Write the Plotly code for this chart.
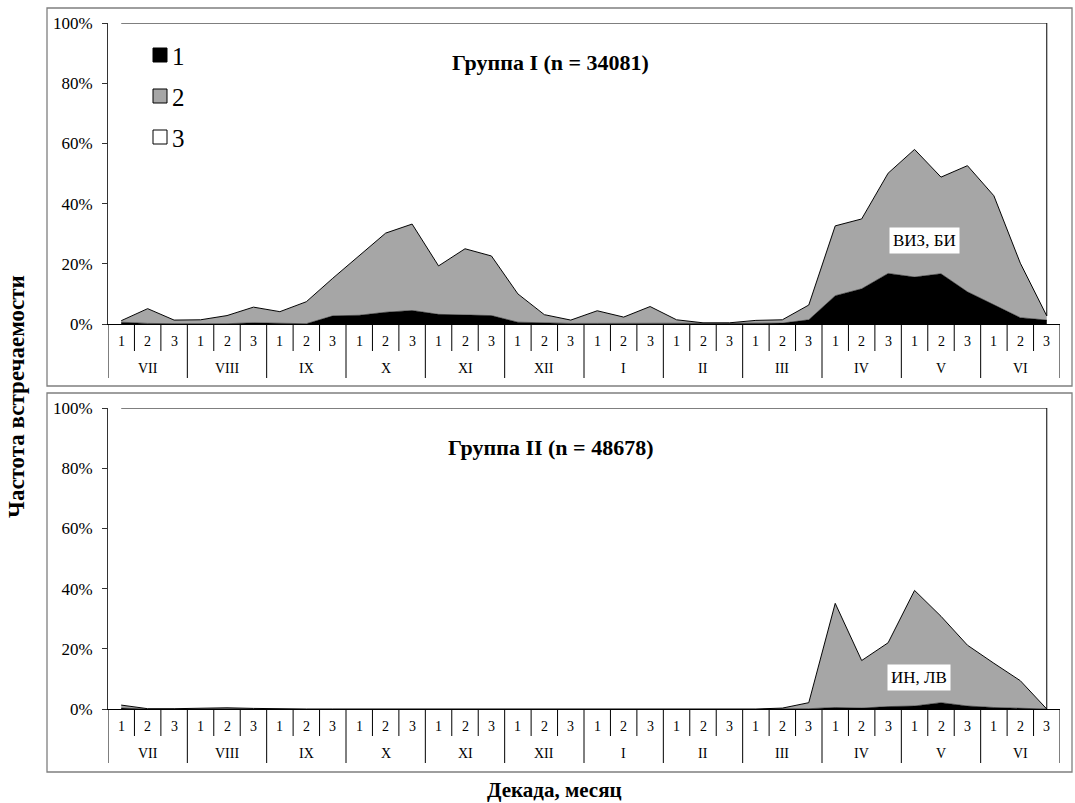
import plotly.graph_objects as go

W, H = 1075, 803
ML, MR = 108, 15
FONT = "Liberation Serif"

decades = ["1", "2", "3"] * 12
months = ["VII", "VIII", "IX", "X", "XI", "XII", "I", "II", "III", "IV", "V", "VI"]
y_ticks = [0, 20, 40, 60, 80, 100]
y_ticktext = ["0%", "20%", "40%", "60%", "80%", "100%"]

# Group I (n = 34081): share of category 1 and 2, %
g1_s1 = [0.6, 0.2, 0.1, 0.1, 0.1, 0.4, 0.2, 0.1, 2.7, 2.9, 3.9, 4.5, 3.2, 3.0, 2.8, 0.6, 0.3, 0.2,
         0.2, 0.2, 0.2, 0.2, 0.1, 0.1, 0.2, 0.3, 1.4, 9.4, 11.7, 16.8, 15.6, 16.7, 10.7, 6.4, 2.1, 1.3]
g1_s2 = [0.5, 4.9, 1.2, 1.3, 2.7, 5.2, 3.9, 7.3, 12.5, 19.7, 26.3, 28.7, 16.1, 22.0, 19.8, 9.4, 2.8, 1.1,
         4.2, 2.1, 5.6, 1.2, 0.3, 0.3, 1.0, 1.1, 4.9, 23.2, 23.2, 33.3, 42.4, 32.1, 41.9, 36.2, 18.1, 1.4]
# Group II (n = 48678)
g2_s1 = [0.3, 0.0, 0.0, 0.1, 0.2, 0.1, 0.0, 0.0, 0.0, 0.0, 0.0, 0.0, 0.0, 0.0, 0.0, 0.0, 0.0, 0.0,
         0.0, 0.0, 0.0, 0.0, 0.0, 0.0, 0.0, 0.0, 0.1, 0.5, 0.3, 0.8, 1.0, 2.1, 1.0, 0.5, 0.2, 0.0]
g2_s2 = [1.0, 0.1, 0.1, 0.2, 0.2, 0.1, 0.0, 0.0, 0.0, 0.0, 0.0, 0.0, 0.0, 0.0, 0.0, 0.0, 0.0, 0.0,
         0.0, 0.0, 0.0, 0.0, 0.0, 0.0, 0.0, 0.3, 2.0, 34.6, 15.8, 21.2, 38.4, 28.7, 20.2, 14.7, 9.2, 0.0]

titles = ["Группа I (n = 34081)", "Группа II (n = 48678)"]
notes = ["ВИЗ, БИ", "ИН, ЛВ"]
note_pos = [(30.36, 27.9), (30.17, 10.6)]
legend_labels = ["1", "2", "3"]
colors = ["#000000", "#A6A6A6", "#FFFFFF"]


def py(pix):
    return 1 - pix / H


def px(pix):
    return (pix - ML) / (W - ML - MR)


fig = go.Figure()
xs = list(range(len(decades)))
panels = [
    dict(s1=g1_s1, s2=g1_s2, xa="x", ya="y", zero=324, top=23, frame=(8, 386), title_y=63),
    dict(s1=g2_s1, s2=g2_s2, xa="x2", ya="y2", zero=709, top=408, frame=(393, 772), title_y=447),
]

C = dict(xanchor="center", yanchor="middle", showarrow=False)

shapes = []
annotations = []
for k, p in enumerate(panels):
    s3 = [100 - a - b for a, b in zip(p["s1"], p["s2"])]
    for vals, col, lw in [(p["s1"], colors[0], 0.5), (p["s2"], colors[1], 1), (s3, colors[2], 1)]:
        fig.add_trace(go.Scatter(
            x=xs, y=vals, xaxis=p["xa"], yaxis=p["ya"], mode="lines",
            stackgroup="g%d" % k, fillcolor=col,
            line=dict(color="#000000", width=lw),
            hoverinfo="skip", showlegend=False))
    # right edge of the white (series 3) area
    last = len(xs) - 1
    shapes.append(dict(type="line", xref=p["xa"], yref=p["ya"], x0=last, x1=last,
                       y0=p["s1"][-1] + p["s2"][-1], y1=100,
                       line=dict(color="#000000", width=1)))
    # frame
    shapes.append(dict(type="rect", xref="paper", yref="paper", x0=px(47), x1=px(1072),
                       y0=py(p["frame"][1]), y1=py(p["frame"][0]),
                       line=dict(color="#7f7f7f", width=1.3), layer="below"))
    # category separators
    z = p["zero"]
    for b in range(len(xs) + 1):
        long_ = b % 3 == 0
        shapes.append(dict(type="line", xref=p["xa"], yref="paper", x0=b - 0.5, x1=b - 0.5,
                           y0=py(z), y1=py(z + (54 if long_ else 27)),
                           line=dict(color="#000000", width=1)))
    for i, d in enumerate(decades):
        annotations.append(dict(text=d, x=i, y=py(z + 17.5), xref=p["xa"], yref="paper",
                                font=dict(family=FONT, size=14, color="#000"), **C))
    for m, name in enumerate(months):
        annotations.append(dict(text=name, x=3 * m + 1, y=py(z + 44), xref=p["xa"], yref="paper",
                                font=dict(family=FONT, size=14, color="#000"), **C))
    annotations.append(dict(text="<b>%s</b>" % titles[k], x=px(550), y=py(p["title_y"]),
                            xref="paper", yref="paper",
                            font=dict(family=FONT, size=22, color="#000"), **C))
    nx, ny = note_pos[k]
    annotations.append(dict(text=notes[k], x=nx, y=ny, xref=p["xa"], yref=p["ya"],
                            bgcolor="#FFFFFF", borderpad=3,
                            font=dict(family=FONT, size=17, color="#000"), **C))

# legend
for j, (lab, col) in enumerate(zip(legend_labels, colors)):
    cy = 55 + j * 41
    shapes.append(dict(type="rect", xref="paper", yref="paper",
                       x0=px(153), x1=px(167), y0=py(cy + 7), y1=py(cy - 7),
                       fillcolor=col, line=dict(color="#000000", width=1)))
    annotations.append(dict(text=lab, x=px(170), y=py(cy + 1), xref="paper", yref="paper",
                            xanchor="left", yanchor="middle", showarrow=False,
                            font=dict(family=FONT, size=25, color="#000")))

annotations.append(dict(text="<b>Частота встречаемости</b>", x=px(16), y=py(397),
                        xref="paper", yref="paper", textangle=-90,
                        font=dict(family=FONT, size=23, color="#000"), **C))
annotations.append(dict(text="<b>Декада, месяц</b>", x=px(554), y=py(790),
                        xref="paper", yref="paper",
                        font=dict(family=FONT, size=21, color="#000"), **C))

xcommon = dict(range=[-0.5, len(xs) - 0.5], showgrid=False, zeroline=False, showticklabels=False,
               showline=True, linecolor="#000000", linewidth=1, ticks="", fixedrange=True)
ycommon = dict(range=[0, 100], showgrid=False, zeroline=False, showline=True, linecolor="#333333",
               linewidth=1, ticks="outside", ticklen=5, tickcolor="#333333",
               tickvals=y_ticks, ticktext=y_ticktext, ticklabelstandoff=6,
               tickfont=dict(family=FONT, size=17, color="#000"))

fig.update_layout(
    width=W, height=H, margin=dict(l=ML, r=MR, t=0, b=0, autoexpand=False),
    paper_bgcolor="#FFFFFF", plot_bgcolor="rgba(0,0,0,0)",
    showlegend=False,
    xaxis=dict(domain=[0, 1], anchor="y", **xcommon),
    xaxis2=dict(domain=[0, 1], anchor="y2", **xcommon),
    yaxis=dict(domain=[py(324), py(23)], anchor="x", **ycommon),
    yaxis2=dict(domain=[py(709), py(408)], anchor="x2", **ycommon),
    shapes=shapes, annotations=annotations,
)

fig.write_html("out.html")
